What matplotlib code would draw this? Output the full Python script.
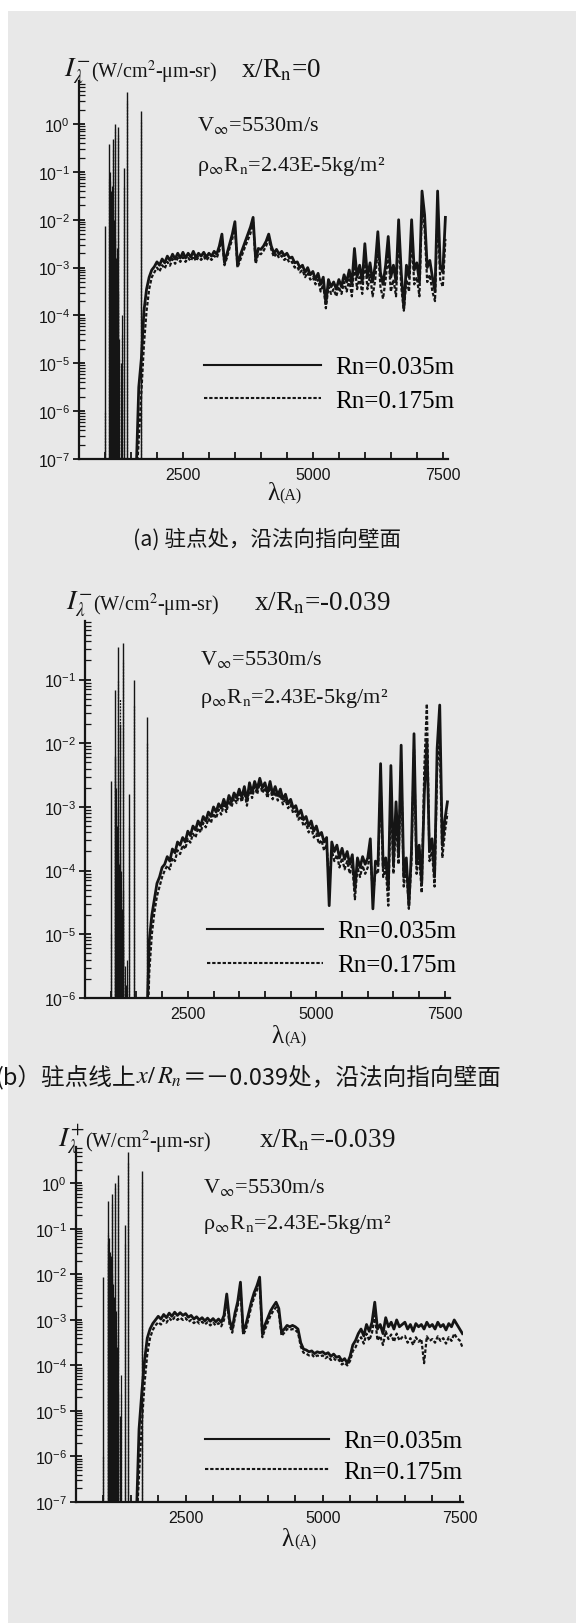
import numpy as np
import matplotlib
matplotlib.use("Agg")
import matplotlib.pyplot as plt
from matplotlib.ticker import LogLocator, MultipleLocator, FixedLocator, NullFormatter
from matplotlib.lines import Line2D
from matplotlib.patches import Rectangle

plt.rcParams['font.family'] = ['Liberation Serif', 'Noto Sans CJK SC', 'DejaVu Sans']
plt.rcParams['mathtext.fontset'] = 'stix'

W, H = 576, 1624
INK = '#151515'
PAPER = '#e8e8e8'
CJK = ['Noto Sans CJK SC', 'Liberation Serif']

# ---------------- data ----------------
# wavelength grids for the continuum part, Angstrom
lam_a = np.arange(1600, 7551, 50)
lam_b = np.arange(1700, 7551, 50)
lam_c = np.arange(1600, 7551, 50)

# panel (a) x/Rn=0, log10 of intensity
a_solid = [-7.3, -5.5, -4.9, -3.9, -3.45, -3.2, -3.05, -2.98,
           -2.88, -2.95, -2.82, -2.9, -2.76, -2.85, -2.72, -2.82, -2.7, -2.8,
           -2.68, -2.8, -2.7, -2.78, -2.66, -2.79, -2.7, -2.76, -2.68, -2.78,
           -2.7, -2.76, -2.66, -2.72, -2.55, -2.3, -2.9, -2.7, -2.5, -2.3,
           -2.04, -2.95, -2.75, -2.6, -2.45, -2.3, -2.15, -1.95, -2.85, -2.6,
           -2.62, -2.55, -2.45, -2.3, -2.55, -2.7, -2.62, -2.72, -2.66, -2.75,
           -2.7, -2.8, -2.78, -2.9, -2.88, -3.0, -2.95, -3.1, -3.0, -3.15,
           -3.08, -3.25, -3.12, -3.35, -3.2, -3.75, -3.25, -3.4, -3.3, -3.45,
           -3.25, -3.4, -3.15, -3.3, -3.05, -3.35, -2.6, -3.2, -2.95, -3.3,
           -2.5, -3.2, -2.9, -3.3, -2.95, -2.25, -3.1, -3.35, -2.95, -2.35,
           -3.2, -2.95, -3.3, -2.0, -3.1, -3.85, -2.95, -3.2, -2.0, -3.05,
           -2.9, -3.3, -1.4, -1.9, -3.0, -2.85, -3.2, -3.5, -1.4, -2.95,
           -3.1, -1.95]
a_dash = [-7.5, -6.6, -5.6, -4.6, -3.9, -3.45, -3.2, -3.1,
          -3.0, -3.08, -2.95, -3.02, -2.88, -2.96, -2.82, -2.92, -2.8, -2.88,
          -2.78, -2.88, -2.8, -2.86, -2.76, -2.86, -2.78, -2.84, -2.77, -2.85,
          -2.78, -2.84, -2.75, -2.8, -2.65, -2.4, -2.95, -2.78, -2.58, -2.4,
          -2.15, -3.0, -2.85, -2.7, -2.55, -2.42, -2.28, -2.05, -2.92, -2.7,
          -2.72, -2.65, -2.55, -2.4, -2.62, -2.78, -2.7, -2.8, -2.75, -2.84,
          -2.8, -2.9, -2.88, -3.0, -2.98, -3.1, -3.05, -3.2, -3.1, -3.25,
          -3.2, -3.35, -3.25, -3.5, -3.35, -3.85, -3.4, -3.55, -3.45, -3.6,
          -3.4, -3.55, -3.3, -3.5, -3.25, -3.6, -2.9, -3.45, -3.2, -3.55,
          -2.8, -3.45, -3.15, -3.6, -3.25, -2.55, -3.4, -3.65, -3.25, -2.7,
          -3.5, -3.25, -3.6, -2.3, -3.4, -3.9, -3.25, -3.5, -2.3, -3.35,
          -3.2, -3.6, -1.7, -2.2, -3.3, -3.15, -3.5, -3.7, -1.8, -3.25,
          -3.4, -2.4]
# VUV atomic lines: position and peak value
a_line_lam = [1000, 1085, 1150, 1200, 1250, 1360, 1430, 1700]
a_line_solid = [7.4e-3, 0.38, 0.48, 1.0, 0.85, 0.12, 4.6, 1.85]
a_line_dash = [1e-6, 0.07, 0.3, 0.8, 0.6, 0.05, 3.0, 1.2]
# dense line cluster between the strong lines, log10 peak
dense_lam = [1090, 1095, 1105, 1110, 1118, 1125, 1132, 1140, 1160, 1168,
             1178, 1185, 1192, 1212, 1222, 1235, 1242, 1270, 1300, 1320]
a_dense = [-1.2, -1.6, -1.0, -2.2, -1.4, -1.9, -1.3, -2.5, -1.8, -2.6,
           -2.0, -3.0, -2.4, -2.8, -3.2, -2.6, -3.5, -4.5, -5.0, -4.0]

# panel (b) x/Rn=-0.039, I-
b_solid = [-6.5, -5.1, -4.7, -4.45, -4.2, -4.1,
           -3.95, -3.9, -3.78, -3.85, -3.66, -3.72, -3.55, -3.6, -3.48, -3.55,
           -3.38, -3.45, -3.3, -3.36, -3.22, -3.3, -3.15, -3.22, -3.08, -3.15,
           -3.0, -3.08, -2.95, -3.02, -2.88, -3.0, -2.82, -2.92, -2.78, -2.86,
           -2.72, -2.85, -2.68, -2.9, -2.62, -2.78, -2.6, -2.72, -2.55, -2.7,
           -2.62, -2.78, -2.6, -2.8, -2.68, -2.82, -2.72, -2.88, -2.8, -2.95,
           -2.88, -3.02, -2.98, -3.12, -3.05, -3.2, -3.15, -3.3, -3.22, -3.38,
           -3.3, -3.45, -3.4, -3.55, -3.48, -4.55, -3.55, -3.7, -3.6, -3.8,
           -3.65, -3.82, -3.7, -3.9, -3.75, -4.3, -3.8, -3.95, -3.78, -3.9,
           -3.8, -3.5, -4.6, -3.85, -3.9, -2.32, -3.95, -3.8, -4.3, -2.35,
           -3.9, -2.92, -3.75, -2.03, -4.1, -3.8, -4.55, -3.7, -1.85, -3.9,
           -3.6, -4.2, -2.8, -1.95, -3.7, -3.5, -4.1, -2.08, -1.4, -3.6,
           -3.2, -2.92]
b_dash = [-7.0, -5.6, -5.0, -4.65, -4.4, -4.25,
          -4.1, -4.0, -3.92, -3.98, -3.8, -3.85, -3.68, -3.74, -3.6, -3.66,
          -3.5, -3.56, -3.42, -3.48, -3.33, -3.4, -3.25, -3.32, -3.18, -3.25,
          -3.1, -3.18, -3.04, -3.12, -2.97, -3.08, -2.9, -3.0, -2.86, -2.94,
          -2.8, -2.92, -2.76, -2.98, -2.7, -2.86, -2.68, -2.8, -2.62, -2.78,
          -2.7, -2.86, -2.68, -2.88, -2.76, -2.9, -2.8, -2.96, -2.88, -3.02,
          -2.96, -3.1, -3.06, -3.2, -3.14, -3.3, -3.25, -3.4, -3.32, -3.48,
          -3.42, -3.58, -3.52, -3.68, -3.6, -4.2, -3.68, -3.85, -3.75, -3.95,
          -3.8, -3.98, -3.85, -4.05, -3.9, -4.45, -3.95, -4.1, -3.92, -4.05,
          -3.95, -3.7, -4.4, -4.0, -4.05, -2.6, -4.1, -3.95, -4.55, -2.7,
          -4.05, -3.2, -3.9, -2.3, -4.25, -3.95, -4.6, -3.85, -2.1, -4.05,
          -3.75, -4.35, -2.4, -1.38, -3.85, -3.7, -4.25, -2.4, -1.9, -3.8,
          -3.4, -3.1]
b_line_lam = [1000, 1080, 1135, 1175, 1240, 1350, 1450, 1700]
b_line_solid = [2.6e-3, 0.068, 0.32, 0.02, 0.38, 1.6e-3, 0.1, 0.026]
b_line_dash = [1e-5, 6e-3, 0.1, 0.05, 0.2, 5e-4, 0.04, 0.01]
b_dense = [-2.2, -3.0, -2.7, -3.8, -3.5, -4.0, -3.3, -4.2, -3.9, -4.5,
           -3.7, -4.8, -4.0, -4.6, -5.0, -4.3, -5.2, -5.5, -5.8, -5.4]

# panel (c) x/Rn=-0.039, I+
c_solid = [-7.4, -5.4, -4.6, -3.9, -3.4, -3.2, -3.08, -3.0,
           -2.92, -2.98, -2.88, -2.95, -2.85, -2.92, -2.83, -2.9, -2.84, -2.9,
           -2.86, -2.94, -2.9, -2.98, -2.93, -3.0, -2.95, -3.02, -2.96, -3.03,
           -2.97, -3.04, -2.98, -3.05, -2.9, -2.43, -3.0, -3.2, -2.85, -2.6,
           -2.17, -3.25, -3.1, -2.85, -2.6, -2.4, -2.25, -2.06, -3.3, -3.1,
           -2.95, -2.8, -2.7, -2.61, -2.75, -3.27, -3.2, -3.12, -3.15, -3.12,
           -3.15, -3.2, -3.5, -3.64, -3.66, -3.7, -3.68, -3.74, -3.7, -3.72,
           -3.7, -3.75, -3.72, -3.8, -3.75, -3.82, -3.8, -3.9, -3.85, -3.95,
           -3.8, -3.55, -3.45, -3.3, -3.2, -3.35, -3.1, -3.25, -3.05, -2.61,
           -3.2, -3.1, -3.3, -2.95, -3.15, -3.05, -3.2, -3.0, -3.15, -3.1,
           -3.05, -3.2, -3.1, -3.25, -3.08, -3.15, -3.1, -3.2, -3.05, -3.15,
           -3.1, -3.2, -3.05, -3.15, -3.1, -3.22, -3.08, -3.15, -3.0, -3.1,
           -3.2, -3.3]
c_dash = [-7.6, -6.4, -5.3, -4.4, -3.75, -3.4, -3.22, -3.12,
          -3.05, -3.1, -3.0, -3.06, -2.96, -3.02, -2.94, -3.0, -2.95, -3.0,
          -2.96, -3.04, -3.0, -3.07, -3.02, -3.08, -3.04, -3.1, -3.05, -3.12,
          -3.06, -3.12, -3.07, -3.14, -3.0, -2.55, -3.1, -3.28, -2.95, -2.7,
          -2.3, -3.33, -3.2, -2.95, -2.7, -2.5, -2.35, -2.18, -3.38, -3.2,
          -3.05, -2.9, -2.8, -2.72, -2.85, -3.35, -3.28, -3.2, -3.22, -3.2,
          -3.22, -3.28, -3.58, -3.72, -3.74, -3.78, -3.76, -3.82, -3.78, -3.8,
          -3.78, -3.84, -3.8, -3.88, -3.84, -3.9, -3.88, -3.98, -3.94, -4.0,
          -3.9, -3.68, -3.6, -3.45, -3.38, -3.52, -3.3, -3.45, -3.28, -2.9,
          -3.45, -3.35, -3.55, -3.25, -3.42, -3.32, -3.48, -3.3, -3.45, -3.38,
          -3.35, -3.5, -3.4, -3.55, -3.38, -3.48, -3.42, -3.95, -3.36, -3.46,
          -3.42, -3.5, -3.36, -3.46, -3.4, -3.52, -3.38, -3.46, -3.3, -3.4,
          -3.45, -3.6]
c_line_lam = [1000, 1090, 1150, 1205, 1260, 1385, 1450, 1710]
c_line_solid = [8.7e-3, 0.42, 0.58, 1.0, 1.5, 0.12, 4.8, 1.9]
c_line_dash = [1e-6, 0.08, 0.35, 0.8, 1.0, 0.05, 3.0, 1.2]
c_dense = [-1.3, -1.7, -1.2, -2.0, -1.5, -2.3, -1.6, -2.6, -2.0, -2.7,
           -2.2, -3.1, -2.5, -3.0, -3.3, -2.8, -3.6, -4.6, -5.1, -4.2]

labels = ['Rn=0.035m', 'Rn=0.175m']
dash_style = (0, (1.6, 0.9))

# ---------------- figure ----------------
fig = plt.figure(figsize=(W / 100, H / 100), dpi=100, facecolor=PAPER)
fig.patches.append(Rectangle((0, 1 - 12 / H), 1, 12 / H, transform=fig.transFigure,
                             facecolor='white', edgecolor='none', zorder=0))
fig.patches.append(Rectangle((0, 0), 8 / W, 1, transform=fig.transFigure,
                             facecolor='white', edgecolor='none', zorder=0))
renderer = fig.canvas.get_renderer()


def fx(x):
    return x / W


def fy(y):
    return 1 - y / H


def make_axes(left, top, right, bottom):
    return fig.add_axes([fx(left), fy(bottom), (right - left) / W, (bottom - top) / H])


def text_run(x, y, pieces):
    # place several texts one after another on a common baseline
    for s, dy, kw in pieces:
        t = fig.text(fx(x), fy(y + dy), s, ha='left', va='baseline', color=INK, **kw)
        x += t.get_window_extent(renderer).width


def draw_panel(ax, lam, solid, dash, line_lam, line_solid, line_dash, dense,
               xlim, ylim, leg_xy, leg_len, leg_space):
    floor = 1e-9
    ax.vlines(line_lam, floor, line_dash, colors=INK, linestyles=dash_style, lw=0.9)
    ax.vlines(dense_lam, floor, 10 ** (np.array(dense) - 0.4), colors=INK,
              linestyles=dash_style, lw=0.9)
    ax.vlines(dense_lam, floor, 10 ** np.array(dense), colors=INK, lw=0.9)
    ax.vlines(line_lam, floor, line_solid, colors=INK, lw=1.0)
    ax.plot(lam, 10 ** np.array(dash), color=INK, ls=dash_style, lw=1.6)
    ax.plot(lam, 10 ** np.array(solid), color=INK, ls='-', lw=2.0)

    ax.set_yscale('log')
    ax.set_xlim(*xlim)
    ax.set_ylim(*ylim)
    ax.set_facecolor('none')
    for s in ['top', 'right']:
        ax.spines[s].set_visible(False)
    for s in ['left', 'bottom']:
        ax.spines[s].set_linewidth(1.6)
        ax.spines[s].set_color(INK)

    ax.xaxis.set_major_locator(FixedLocator([2500, 5000, 7500]))
    ax.xaxis.set_minor_locator(MultipleLocator(500))
    ax.yaxis.set_major_locator(LogLocator(base=10, numticks=20))
    ax.yaxis.set_minor_locator(LogLocator(base=10, subs=np.arange(2, 10), numticks=100))
    ax.yaxis.set_minor_formatter(NullFormatter())
    ax.tick_params(axis='x', which='both', direction='in', length=5, width=1.3,
                   labelsize=11.5, pad=6, colors=INK, labelfontfamily='Liberation Sans')
    ax.tick_params(axis='y', which='major', direction='inout', length=9, width=1.3,
                   labelsize=11.5, pad=2, colors=INK, labelfontfamily='Liberation Sans')
    ax.tick_params(axis='y', which='minor', direction='in', length=4, width=0.9, colors=INK)

    handles = [Line2D([], [], color=INK, lw=1.5),
               Line2D([], [], color=INK, lw=1.5, ls=dash_style)]
    ax.legend(handles, labels, loc='upper left', bbox_to_anchor=(fx(leg_xy[0]), fy(leg_xy[1])),
              bbox_transform=fig.transFigure, frameon=False, fontsize=18,
              handlelength=leg_len / 25, handletextpad=0.55, labelspacing=leg_space,
              borderpad=0, borderaxespad=0)


def panel_texts(sign, title, il, iy, tx, ty, vx, vy, ry, lx, ly):
    text_run(il, iy, [(r'$I^{%s}_{\lambda}$' % sign, 0, dict(fontsize=20)),
                      ('(W/cm$^{2}$-μm-sr)', 1, dict(fontsize=14.5))])
    fig.text(fx(tx), fy(ty), title, fontsize=19.5, ha='left', va='center', color=INK)
    fig.text(fx(vx), fy(vy), r'V$_{\infty}$=5530m/s', fontsize=16, ha='left',
             va='center', color=INK)
    fig.text(fx(vx), fy(ry), r'ρ$_{\infty}$R$_{\mathrm{n}}$=2.43E-5kg/m²', fontsize=16,
             ha='left', va='center', color=INK)
    fig.text(fx(lx), fy(ly), 'λ', fontsize=18, ha='right', va='center', color=INK)
    fig.text(fx(lx), fy(ly + 2), '(A)', fontsize=11.5, ha='left', va='center', color=INK)


# panel (a)
ax1 = make_axes(79, 82, 448, 460)
draw_panel(ax1, lam_a, a_solid, a_dash, a_line_lam, a_line_solid, a_line_dash, a_dense,
           (500, 7600), (1e-7, 10 ** 0.9), (204, 357), 117, 0.42)
panel_texts('-', r'x/R$_{\mathrm{n}}$=0', 64, 77, 241, 71, 197, 125, 166, 279, 494)
fig.text(fx(267), fy(540), '(a) 驻点处，沿法向指向壁面', fontsize=15.5, ha='center',
         va='center', color=INK, family=CJK)

# panel (b)
ax2 = make_axes(85, 622, 450, 999)
draw_panel(ax2, lam_b, b_solid, b_dash, b_line_lam, b_line_solid, b_line_dash, b_dense,
           (500, 7600), (1e-6, 10 ** -0.08), (207, 921), 116, 0.46)
panel_texts('-', r'x/R$_{\mathrm{n}}$=-0.039', 66, 610, 254, 604, 200, 660, 699, 284, 1037)

text_run(-4, 1084, [('(b）驻点线上', 0, dict(fontsize=17, family=CJK)),
                    (r'$x/\,R_n$', 0, dict(fontsize=17.5)),
                    ('＝－0.039处，沿法向指向壁面', 0, dict(fontsize=17, family=CJK))])

# panel (c)
ax3 = make_axes(76, 1148, 463, 1503)
draw_panel(ax3, lam_c, c_solid, c_dash, c_line_lam, c_line_solid, c_line_dash, c_dense,
           (500, 7560), (1e-7, 10 ** 0.8), (205, 1431), 124, 0.32)
panel_texts('+', r'x/R$_{\mathrm{n}}$=-0.039', 58, 1147, 259, 1141, 203, 1188, 1225, 294, 1540)

fig.savefig('out.png', dpi=100, facecolor=fig.get_facecolor())
